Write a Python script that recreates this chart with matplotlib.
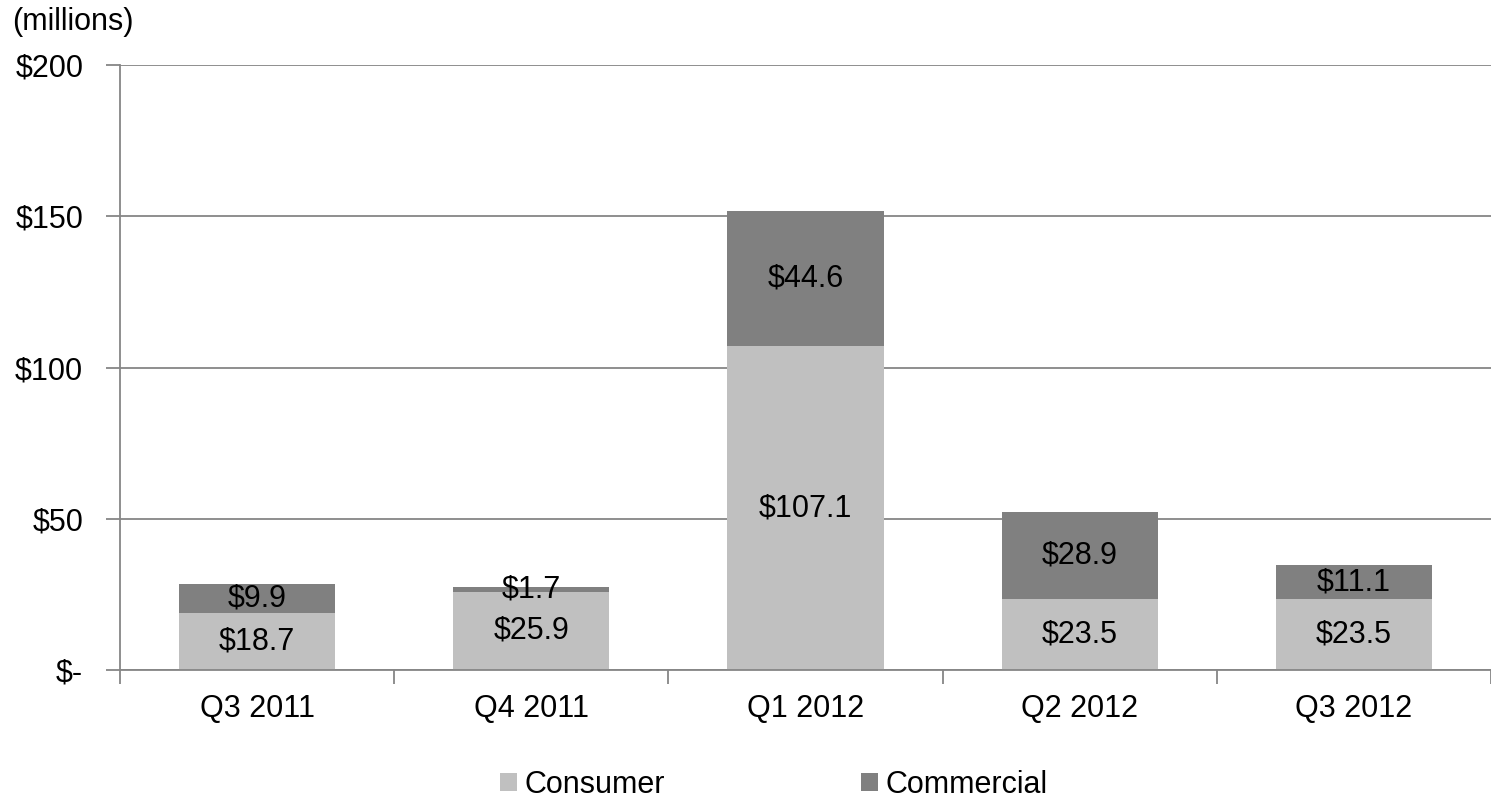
import numpy as np
import matplotlib.pyplot as plt

plt.rcParams['font.family'] = ['Liberation Sans', 'DejaVu Sans']

quarters = ["Q3 2011", "Q4 2011", "Q1 2012", "Q2 2012", "Q3 2012"]
consumer = [18.7, 25.9, 107.1, 23.5, 23.5]
commercial = [9.9, 1.7, 44.6, 28.9, 11.1]
y_ticks = [0, 50, 100, 150, 200]
y_labels = ["$-", "$50", "$100", "$150", "$200"]

fig = plt.figure(figsize=(14.91, 7.99), dpi=100)
ax = fig.add_axes([0.0805, 0.1614, 0.9195, 0.7572])

x = np.arange(len(quarters))
width = 0.57
b1 = ax.bar(x, consumer, width, color="#c0c0c0", label="Consumer", zorder=2)
b2 = ax.bar(x, commercial, width, bottom=consumer, color="#808080",
            label="Commercial", zorder=2)

for bars, vals in ((b1, consumer), (b2, commercial)):
    for rect, v in zip(bars, vals):
        cy = rect.get_y() + rect.get_height() / 2
        ax.text(rect.get_x() + rect.get_width() / 2, cy, f"${v:.1f}",
                ha="center", va="center", fontsize=22, color="black", zorder=3)

ax.set_xlim(-0.5, len(quarters) - 0.5)
ax.set_ylim(0, 200)
ax.set_yticks(y_ticks)
ax.set_yticklabels(y_labels, fontsize=22)
ax.yaxis.grid(True, color="#868686", linewidth=1.3, zorder=0)
ax.tick_params(axis="y", length=10, width=1.3, color="#868686", pad=16.5)

# labels sit at the centres, tick marks at the category boundaries
ax.set_xticks(x)
ax.set_xticklabels(quarters, fontsize=22)
ax.set_xticks(np.arange(len(quarters) + 1) - 0.5, minor=True)
ax.tick_params(axis="x", which="major", length=0, pad=17)
ax.tick_params(axis="x", which="minor", length=10, width=1.3, color="#868686")

for side in ("top", "right"):
    ax.spines[side].set_visible(False)
for side in ("left", "bottom"):
    ax.spines[side].set_color("#868686")
    ax.spines[side].set_linewidth(1.3)

fig.text(0.008, 0.972, "(millions)", fontsize=22, ha="left", va="center")

fig.legend(loc="center", bbox_to_anchor=(0.519, 0.0175), ncol=2, frameon=False,
           fontsize=22, handlelength=0.55, handleheight=0.55, handletextpad=0.26,
           columnspacing=6.4, borderpad=0.2)

fig.savefig("out.png", dpi=100)
